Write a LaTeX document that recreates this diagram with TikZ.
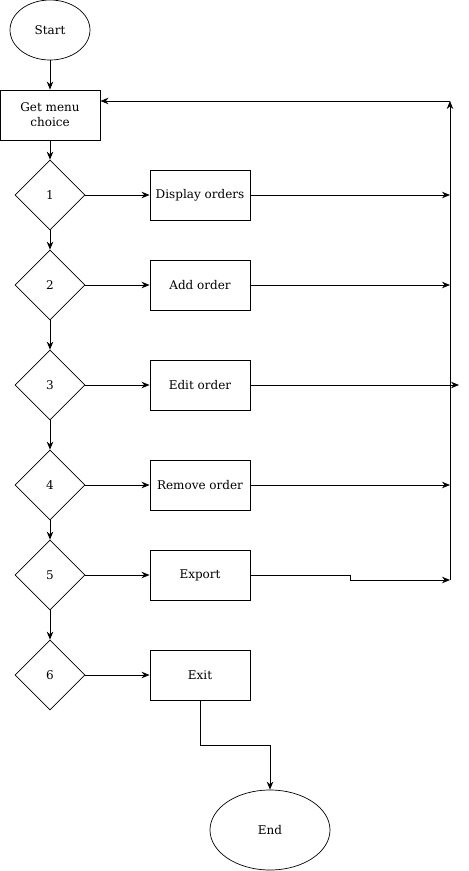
\documentclass[tikz,border=0pt]{standalone}
\usepackage{fontspec}
\setmainfont{DejaVu Serif}
\usetikzlibrary{shapes.geometric,arrows.meta}

\begin{document}
\begin{tikzpicture}[x=1pt,y=-1pt,line width=0.9pt,>={Stealth[length=8pt,width=6.5pt]},
  every node/.style={font=\fontsize{12}{15}\selectfont}]

%
% Styles
%
\tikzstyle{terminal} = [ellipse,draw,line width=0.7pt,inner sep=0pt]
\tikzstyle{process} = [rectangle,draw,minimum width=100pt,minimum height=50pt,inner sep=0pt,align=center]
\tikzstyle{choice} = [diamond,draw,line width=0.7pt,minimum width=70pt,minimum height=70pt,inner sep=0pt,aspect=1]

\useasboundingbox (0,0) rectangle (469,871);

\node[terminal,minimum width=80pt,minimum height=60pt] (start) at (50,30) {Start};
\node[process] (menu) at (50,115) {Get menu\\choice};

\node[choice] (c1) at (50,195) {1};
\node[choice] (c2) at (50,285) {2};
\node[choice] (c3) at (50,385) {3};
\node[choice] (c4) at (50,485) {4};
\node[choice] (c5) at (50,575) {5};
\node[choice] (c6) at (50,675) {6};

\node[process] (display) at (200,195) {Display orders};
\node[process] (add)     at (200,285) {Add order};
\node[process] (edit)    at (200,385) {Edit order};
\node[process] (remove)  at (200,485) {Remove order};
\node[process] (export)  at (200,575) {Export};
\node[process] (exit)    at (200,675) {Exit};

\node[terminal,minimum width=120pt,minimum height=80pt] (end) at (270,830) {End};

\coordinate (top) at (450,101);
\coordinate (bottom) at (450,580);
\coordinate (past) at (459,385);

\draw[->] (start) -- (menu);
\draw[->] (menu) -- (c1);
\draw[->] (c1) -- (c2);
\draw[->] (c2) -- (c3);
\draw[->] (c3) -- (c4);
\draw[->] (c4) -- (c5);
\draw[->] (c5) -- (c6);

\draw[->] (c1) -- (display);
\draw[->] (c2) -- (add);
\draw[->] (c3) -- (edit);
\draw[->] (c4) -- (remove);
\draw[->] (c5) -- (export);
\draw[->] (c6) -- (exit);

\draw[->] (display) -- (display -| top);
\draw[->] (add) -- (add -| top);
\draw[->] (edit) -- (past);
\draw[->] (remove) -- (remove -| top);
\draw[->] (export) -- (350,575) -- (350,580) -- (bottom);

\draw[->] (bottom) -- (top);
\draw[->] (top) -- (menu.east |- top);

\draw[->] (exit) -- (200,745) -- (270,745) -- (end);

\end{tikzpicture}
\end{document}
